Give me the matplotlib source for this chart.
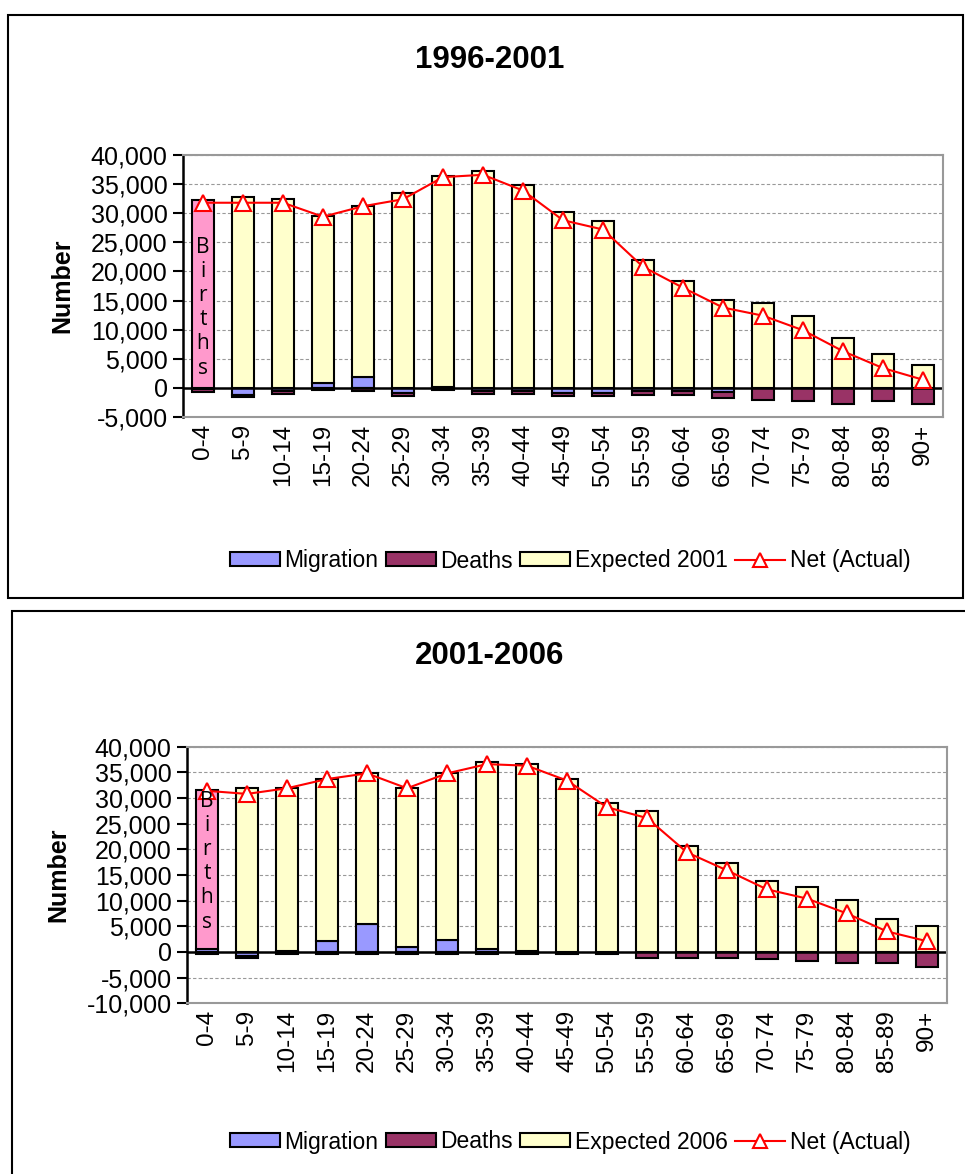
import matplotlib
matplotlib.use('Agg')
import matplotlib.pyplot as plt
import matplotlib.ticker as mticker
from matplotlib.patches import Rectangle, Patch
from matplotlib.lines import Line2D
import numpy as np

plt.rcParams['font.family'] = ['Liberation Sans', 'DejaVu Sans']

ages = ['0-4', '5-9', '10-14', '15-19', '20-24', '25-29', '30-34', '35-39',
        '40-44', '45-49', '50-54', '55-59', '60-64', '65-69', '70-74',
        '75-79', '80-84', '85-89', '90+']

# 1996-2001
mig_1 = [-200, -1300, -600, 900, 1900, -900, 200, -600, -600, -900,
         -900, -600, -600, -700, -100, -100, -100, 0, 0]
deaths_1 = [-500, -300, -400, -400, -450, -500, -400, -400, -400, -500,
            -500, -700, -700, -1000, -1900, -2200, -2600, -2300, -2700]
expected_1 = [32200, 32800, 32500, 28700, 29300, 33500, 36200, 37300, 34800, 30200,
              28700, 21900, 18300, 15100, 14500, 12300, 8600, 5900, 3900]
net_1 = [31800, 31800, 31800, 29400, 31200, 32400, 36200, 36600, 33900, 28800,
         27200, 20800, 17200, 13800, 12400, 9900, 6300, 3400, 1400]

# 2001-2006
mig_2 = [600, -800, 200, 2100, 5500, 1000, 2400, 600, 200, 0,
         0, -100, -100, -100, 0, 0, 0, 0, 0]
deaths_2 = [-450, -300, -450, -450, -450, -450, -450, -450, -450, -450,
            -450, -1000, -1000, -1000, -1400, -1850, -2200, -2200, -2900]
expected_2 = [31000, 31900, 31700, 31600, 29300, 30900, 32400, 36400, 36400, 33700,
              29000, 27500, 20700, 17300, 13800, 12700, 10100, 6500, 5050]
net_2 = [31400, 30800, 31900, 33700, 34800, 31900, 34800, 36600, 36300, 33400,
         28200, 26100, 19400, 15900, 12200, 10400, 7500, 4000, 2100]

fig = plt.figure(figsize=(9.65, 11.74), dpi=100)
W, H = 965.0, 1174.0

# panel borders
fig.add_artist(Rectangle((8 / W, 1 - 598 / H), 955 / W, 583 / H, transform=fig.transFigure,
                         fill=False, edgecolor='black', linewidth=1.5))
fig.add_artist(Rectangle((12 / W, -0.01), 1.0, (1 + 0.01) - 611 / H, transform=fig.transFigure,
                         fill=False, edgecolor='black', linewidth=1.5))


def draw(ax, mig, deaths, expected, net, ymin, title, exp_label, title_y, legend_y, births_y):
    x = np.arange(len(ages))
    mig = np.array(mig, dtype=float)
    deaths = np.array(deaths, dtype=float)
    expected = np.array(expected, dtype=float)
    w = 0.57
    # stacking like Excel: positives up from zero, negatives down from zero
    mig_pos = np.where(mig > 0, mig, 0)
    mig_neg = np.where(mig < 0, mig, 0)
    ax.bar(x, mig, width=w, color='#9999FF', edgecolor='black', linewidth=1.5, zorder=2)
    ax.bar(x, deaths, width=w, bottom=mig_neg, color='#993366', edgecolor='black',
           linewidth=1.5, zorder=2)
    colors = ['#FF99CC'] + ['#FFFFCC'] * (len(ages) - 1)
    ax.bar(x, expected, width=w, bottom=mig_pos, color=colors, edgecolor='black',
           linewidth=1.5, zorder=2)
    ax.plot(x, net, color='red', linewidth=1.5, marker='^', markersize=11,
            markerfacecolor='white', markeredgecolor='red', markeredgewidth=1.5, zorder=3)
    ax.axhline(0, color='black', linewidth=1.8, zorder=2.5)

    ax.text(0, births_y, 'B\ni\nr\nt\nh\ns', ha='center', va='center', fontsize=15,
            linespacing=1.2, family=['Open Sans', 'DejaVu Sans'], zorder=4)

    ax.set_xlim(-0.5, len(ages) - 0.5)
    ax.set_ylim(ymin, 40000)
    ax.set_yticks(np.arange(ymin, 40001, 5000))
    ax.yaxis.set_major_formatter(mticker.FuncFormatter(lambda v, p: f'{int(v):,}'))
    ax.set_xticks(x)
    ax.set_xticklabels(ages, rotation=90, fontsize=17.5)
    ax.tick_params(axis='x', length=0, pad=5)
    ax.tick_params(axis='y', direction='out', length=7, width=1.5, labelsize=18, pad=4)
    ax.grid(axis='y', color='#999999', linestyle=(0, (3, 2)), linewidth=0.8, zorder=0)
    for s in ['top', 'right', 'bottom']:
        ax.spines[s].set_color('#999999')
        ax.spines[s].set_linewidth(1.5)
    ax.spines['left'].set_linewidth(1.8)
    ax.set_ylabel('Number', fontsize=18, fontweight='bold', labelpad=12)

    fig.text(490 / W, 1 - title_y / H, title, ha='center', va='center',
             fontsize=22.5, fontweight='bold')

    handles = [Patch(facecolor='#9999FF', edgecolor='black', linewidth=1.5),
               Patch(facecolor='#993366', edgecolor='black', linewidth=1.5),
               Patch(facecolor='#FFFFCC', edgecolor='black', linewidth=1.5),
               Line2D([], [], color='red', linewidth=1.5, marker='^', markersize=10,
                      markerfacecolor='white', markeredgecolor='red', markeredgewidth=1.5)]
    labels = ['Migration', 'Deaths', exp_label, 'Net (Actual)']
    fig.legend(handles, labels, loc='center', bbox_to_anchor=(570 / W, 1 - legend_y / H),
               ncol=4, frameon=False, fontsize=16.5, handlelength=2.2, handleheight=0.55,
               handletextpad=0.2, columnspacing=0.3, borderpad=0)


ax1 = fig.add_axes([183 / W, 1 - 417 / H, (943 - 183) / W, (417 - 155) / H])
draw(ax1, mig_1, deaths_1, expected_1, net_1, -5000, '1996-2001', 'Expected 2001',
     60, 561, 13800)

ax2 = fig.add_axes([187 / W, 1 - 1003.3 / H, (947 - 187) / W, (1003.3 - 746.7) / H])
draw(ax2, mig_2, deaths_2, expected_2, net_2, -10000, '2001-2006', 'Expected 2006',
     656, 1142, 17600)

fig.savefig('out.png', dpi=100)
